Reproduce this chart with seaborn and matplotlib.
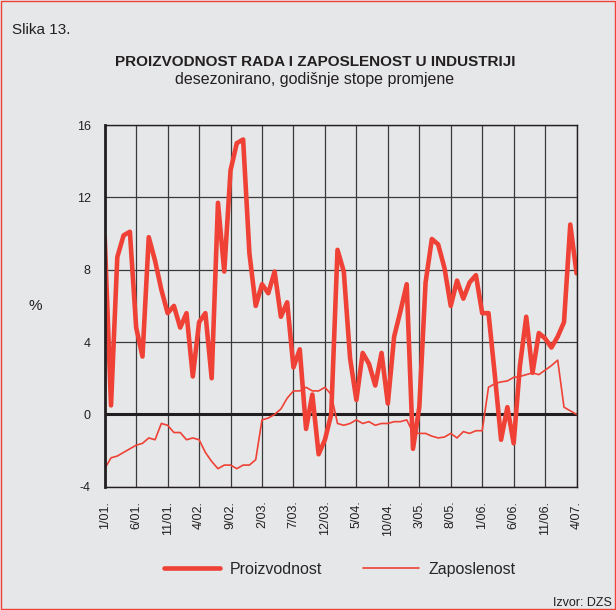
import pandas as pd
import matplotlib.pyplot as plt
import seaborn as sns
from matplotlib.lines import Line2D
from matplotlib.patches import Rectangle

# mjesecni podaci 1/01. - 4/07.
proizvodnost = [9.8, 0.5, 8.7, 9.9, 10.1, 4.8, 3.2, 9.8, 8.5, 6.9,
                5.6, 6.0, 4.8, 5.6, 2.1, 5.1, 5.6, 2.0, 11.7, 7.9,
                13.5, 15.0, 15.2, 8.9, 6.0, 7.2, 6.7, 7.9, 5.4, 6.2,
                2.6, 3.6, -0.8, 1.1, -2.2, -1.4, 0.0, 9.1, 7.9, 3.1,
                0.8, 3.4, 2.8, 1.6, 3.4, 0.6, 4.3, 5.7, 7.2, -1.9,
                0.4, 7.3, 9.7, 9.4, 8.1, 6.0, 7.4, 6.4, 7.3, 7.7,
                5.6, 5.6, 2.2, -1.4, 0.4, -1.6, 2.7, 5.4, 2.3, 4.5,
                4.2, 3.7, 4.3, 5.1, 10.5, 7.8]
zaposlenost = [-3.0, -2.4, -2.3, -2.1, -1.9, -1.7, -1.6, -1.3, -1.4, -0.5,
               -0.6, -1.0, -1.0, -1.4, -1.3, -1.4, -2.1, -2.6, -3.0, -2.8,
               -2.8, -3.0, -2.8, -2.8, -2.5, -0.3, -0.2, 0.0, 0.3, 0.9,
               1.3, 1.3, 1.5, 1.3, 1.3, 1.5, 1.1, -0.5, -0.6, -0.5,
               -0.3, -0.5, -0.4, -0.6, -0.5, -0.5, -0.4, -0.4, -0.3, -1.0,
               -1.05, -1.05, -1.2, -1.3, -1.25, -1.05, -1.3, -0.95, -1.05, -0.9,
               -0.9, 1.5, 1.7, 1.8, 1.85, 2.05, 2.1, 2.2, 2.3, 2.2,
               2.45, 2.7, 3.0, 0.4, 0.2, 0.0]
x_labels = ['1/01.', '6/01.', '11/01.', '4/02.', '9/02.', '2/03.', '7/03.', '12/03.',
            '5/04.', '10/04.', '3/05.', '8/05.', '1/06.', '6/06.', '11/06.', '4/07.']
y_ticks = [-4, 0, 4, 8, 12, 16]

bg = '#e6e7e8'
red = '#ef4136'
dark = '#231f20'

sns.set_style("white")
plt.rcParams['font.family'] = ['Liberation Sans', 'DejaVu Sans']
plt.rcParams['axes.unicode_minus'] = False

df = pd.DataFrame({'mjesec': range(len(proizvodnost)),
                   'Proizvodnost': proizvodnost,
                   'Zaposlenost': zaposlenost})

fig = plt.figure(figsize=(6.16, 6.10), dpi=100, facecolor=bg)
ax = fig.add_axes([0.170, 0.202, 0.766, 0.593])
ax.set_facecolor(bg)

ax.grid(True, color='#3a3a3a', linewidth=0.9)
ax.set_axisbelow(True)
ax.axhline(0, color=dark, linewidth=2.2, zorder=1.5)

sns.lineplot(data=df, x='mjesec', y='Zaposlenost', color=red, linewidth=1.2, ax=ax)
sns.lineplot(data=df, x='mjesec', y='Proizvodnost', color=red, linewidth=3.3, ax=ax)

ax.set_xlim(0, len(proizvodnost) - 1)
ax.set_ylim(-4, 16)
ax.set_xticks(range(0, len(proizvodnost), 5))
ax.set_xticklabels(x_labels, rotation=90)
ax.set_yticks(y_ticks)
ax.set_xlabel('')
ax.set_ylabel('')
ax.tick_params(direction='out', length=6, width=0.9, color=dark, labelsize=9,
               labelcolor=dark, pad=4)
for s in ax.spines.values():
    s.set_color(dark)
    s.set_linewidth(1)
ax.spines['left'].set_linewidth(2)

fig.text(0.0195, 0.951, 'Slika 13.', fontsize=11, va='center', color=dark)
fig.text(0.511, 0.898, 'PROIZVODNOST RADA I ZAPOSLENOST U INDUSTRIJI',
         fontsize=11, fontweight='bold', ha='center', va='center', color=dark)
fig.text(0.511, 0.869, 'desezonirano, godišnje stope promjene',
         fontsize=11.5, ha='center', va='center', color=dark)
fig.text(0.058, 0.498, '%', fontsize=11, ha='center', va='center', color=dark)
fig.text(0.994, 0.012, 'Izvor: DZS', fontsize=9, ha='right', va='center', color=dark)

handles = [Line2D([], [], color=red, linewidth=3.3),
           Line2D([], [], color=red, linewidth=1.2)]
fig.legend(handles, ['Proizvodnost', 'Zaposlenost'], loc='center',
           bbox_to_anchor=(0.552, 0.067), ncol=2, frameon=False, fontsize=11.5,
           handlelength=3.5, handletextpad=0.6, columnspacing=2.6)

fig.patches.append(Rectangle((0.001, 0.001), 0.998, 0.998, transform=fig.transFigure,
                             fill=False, edgecolor=red, linewidth=1))

plt.savefig('out.png', dpi=100, facecolor=bg)
